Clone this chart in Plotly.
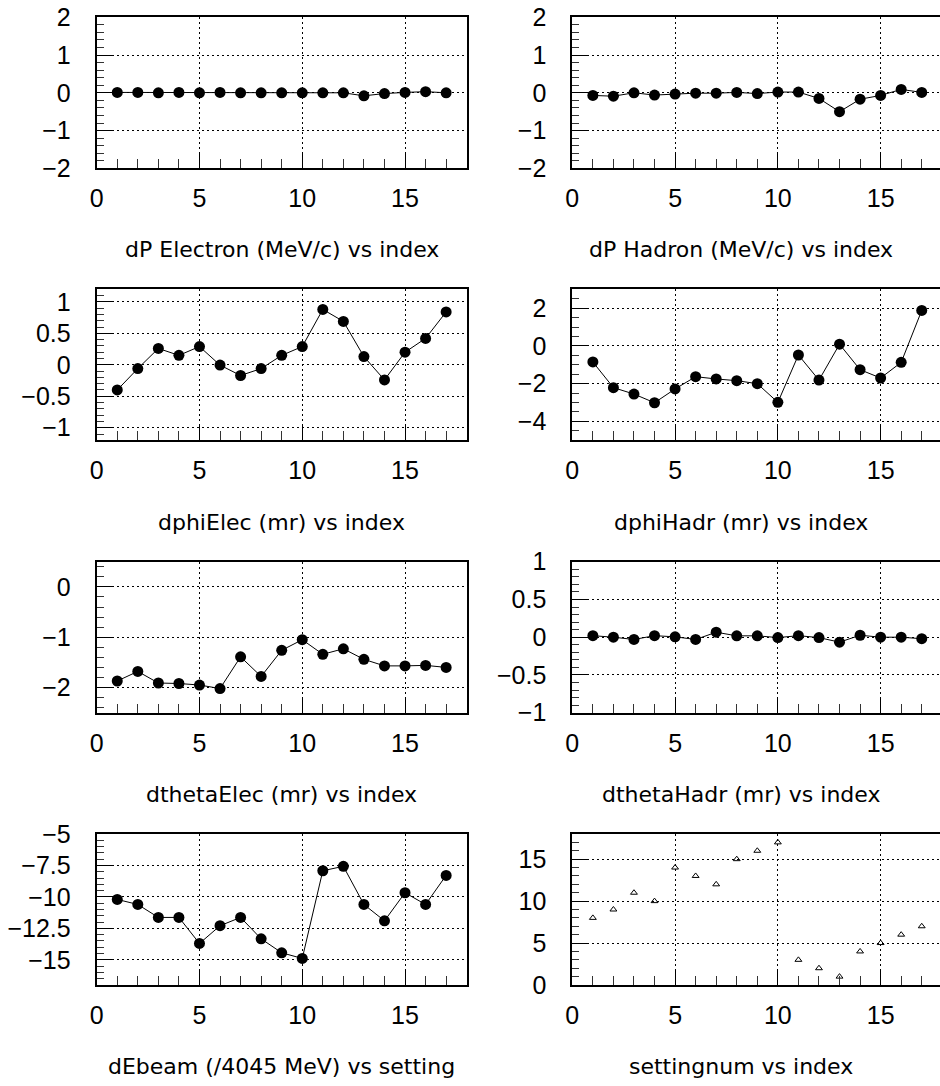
import plotly.graph_objects as go

# ---- data ----
index = list(range(1, 18))
dp_electron = [0.01, 0.01, 0.0, 0.01, 0.0, 0.01, 0.0, 0.0, 0.0, 0.0, 0.0, 0.0, -0.08, -0.02, 0.01, 0.03, 0.0]
dp_hadron = [-0.07, -0.09, 0.0, -0.06, -0.035, -0.01, -0.01, 0.01, -0.02, 0.02, 0.02, -0.15, -0.5, -0.17, -0.07, 0.09, 0.01]
dphi_elec = [-0.40, -0.06, 0.26, 0.15, 0.29, -0.005, -0.17, -0.06, 0.15, 0.29, 0.88, 0.69, 0.13, -0.24, 0.20, 0.42, 0.84]
dphi_hadr = [-0.85, -2.21, -2.55, -3.01, -2.28, -1.63, -1.75, -1.84, -2.0, -2.99, -0.48, -1.81, 0.09, -1.26, -1.70, -0.87, 1.88]
dtheta_elec = [-1.87, -1.68, -1.91, -1.92, -1.95, -2.02, -1.39, -1.78, -1.26, -1.05, -1.34, -1.23, -1.44, -1.57, -1.57, -1.56, -1.60]
dtheta_hadr = [0.02, 0.0, -0.03, 0.02, 0.005, -0.03, 0.066, 0.018, 0.018, -0.005, 0.02, -0.005, -0.066, 0.026, 0.0, 0.0, -0.02]
dEbeam = [-10.2, -10.6, -11.63, -11.63, -13.7, -12.29, -11.63, -13.33, -14.44, -14.89, -7.92, -7.57, -10.6, -11.9, -9.67, -10.6, -8.29]
settingnum = [8, 9, 11, 10, 14, 13, 12, 15, 16, 17, 3, 2, 1, 4, 5, 6, 7]

titles = [
    "dP Electron (MeV/c) vs index", "dP Hadron (MeV/c) vs index",
    "dphiElec (mr) vs index", "dphiHadr (mr) vs index",
    "dthetaElec (mr) vs index", "dthetaHadr (mr) vs index",
    "dEbeam (/4045 MeV) vs setting", "settingnum vs index",
]
series = [dp_electron, dp_hadron, dphi_elec, dphi_hadr, dtheta_elec, dtheta_hadr, dEbeam, settingnum]

# ---- styles / layout ----
W, H = 940, 1086
yranges = [(-2, 2), (-2, 2), (-1.2, 1.2), (-5, 3), (-2.5, 0.5), (-1, 1), (-17, -5), (0, 18)]
ydticks = [1, 1, 0.5, 2, 1, 0.5, 2.5, 5]
yminor = [0.2, 0.2, 0.1, 0.5, 0.2, 0.1, 0.5, 1]
ytick0 = [0, 0, 0, 0, 0, 0, -5, 0]

row_tops = [17.3, 289.3, 561.7, 834.0]
panel_h = 151.0
left_x = (96.7, 466.7)
right_x0 = 572.3
px_per_unit = (466.7 - 96.7) / 18.0
right_xmax = (W - right_x0) / px_per_unit

title_rows = [250, 522, 794, 1066]
title_cx = [281.7, 741.0]

fig = go.Figure()
layout = dict(
    width=W, height=H, margin=dict(l=0, r=0, t=0, b=0, autoexpand=False),
    paper_bgcolor="white", plot_bgcolor="white", showlegend=False,
    annotations=[],
)

tickfont = dict(family="Liberation Sans, Arial, sans-serif", size=25, color="black")
griddash = "2px,3px"

for i, (vals, title) in enumerate(zip(series, titles)):
    row, col = divmod(i, 2)
    n = i + 1
    xa = "x" if n == 1 else f"x{n}"
    ya = "y" if n == 1 else f"y{n}"
    if i == 7:
        fig.add_trace(go.Scatter(
            x=index, y=vals, mode="markers", xaxis=xa, yaxis=ya,
            marker=dict(symbol="triangle-up-open", size=6, color="black", line=dict(width=1, color="black")),
        ))
    else:
        fig.add_trace(go.Scatter(
            x=index, y=vals, mode="lines+markers", xaxis=xa, yaxis=ya,
            line=dict(color="black", width=1),
            marker=dict(symbol="circle", size=11, color="black"),
        ))
    top = row_tops[row]
    ydom = [1 - (top + panel_h) / H, 1 - top / H]
    if col == 0:
        xdom = [left_x[0] / W, left_x[1] / W]
        xr = [0, 18]
    else:
        xdom = [right_x0 / W, 1.0]
        xr = [0, right_xmax]
    layout["xaxis" if n == 1 else f"xaxis{n}"] = dict(
        domain=xdom, range=xr, anchor=ya, tick0=0, dtick=5, automargin=False,
        showline=True, linecolor="black", linewidth=2, mirror=True,
        ticks="inside", ticklen=16, tickwidth=1, tickcolor="black",
        minor=dict(dtick=1, ticks="inside", ticklen=9, tickwidth=1, tickcolor="#333", showgrid=False),
        showgrid=True, gridcolor="black", griddash=griddash, gridwidth=1,
        zeroline=False, tickfont=tickfont, ticklabelstandoff=7, fixedrange=True,
    )
    layout["yaxis" if n == 1 else f"yaxis{n}"] = dict(
        domain=ydom, range=list(yranges[i]), anchor=xa, tick0=ytick0[i], dtick=ydticks[i], automargin=False,
        showline=True, linecolor="black", linewidth=2, mirror=(col == 0),
        ticks="inside", ticklen=15, tickwidth=1, tickcolor="black",
        minor=dict(dtick=yminor[i], ticks="inside", ticklen=7, tickwidth=1, tickcolor="#333", showgrid=False),
        showgrid=True, gridcolor="black", griddash=griddash, gridwidth=1,
        zeroline=False, tickfont=tickfont, ticklabelstandoff=19, fixedrange=True,
    )
    layout["annotations"].append(dict(
        text=title, xref="paper", yref="paper",
        x=title_cx[col] / W, y=1 - title_rows[row] / H,
        xanchor="center", yanchor="middle", showarrow=False,
        font=dict(family="DejaVu Sans, sans-serif", size=22, color="black"),
    ))

fig.update_layout(**layout)
fig.write_html("out.html")
